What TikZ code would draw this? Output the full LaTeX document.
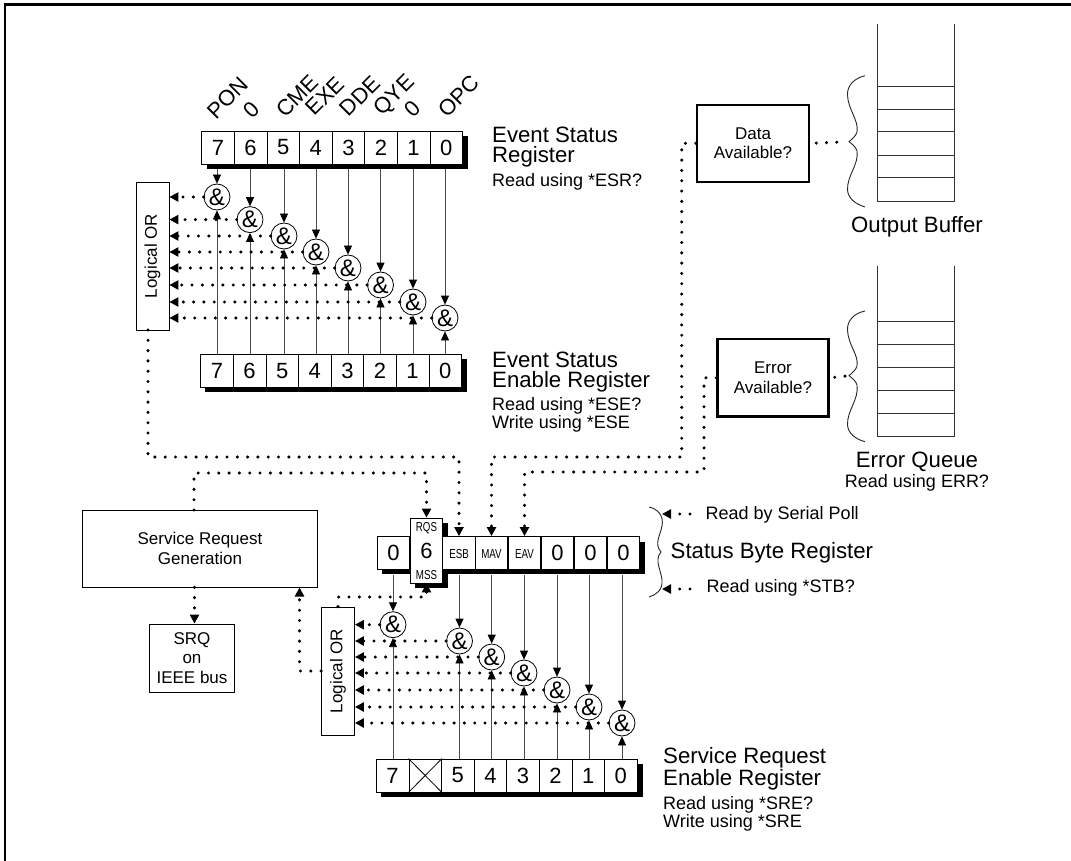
\documentclass[tikz,border=0pt]{standalone}
\usepackage{fontspec}
\usepackage{graphicx}
\setmainfont{Liberation Sans}
\usetikzlibrary{arrows.meta}
\newcommand{\squeezed}[1]{\scalebox{.75}[1]{#1}}
\tikzset{
	cell/.style={draw,fill=white,line width=.8pt,inner sep=0pt,minimum width=32.6pt,minimum height=33pt,font=\fontsize{22}{22}\selectfont},
	flag/.style={inner sep=0pt,font=\fontsize{13}{13}\selectfont},
	andgate/.style={circle,draw,fill=white,line width=.8pt,inner sep=0pt,minimum size=26pt,font=\fontsize{24}{24}\selectfont},
	orbox/.style={draw,fill=white,line width=.8pt,inner sep=0pt,minimum width=33pt,font=\fontsize{17}{17}\selectfont},
	genbox/.style={draw,line width=.8pt,inner sep=0pt,align=center,font=\fontsize{17}{19.5}\selectfont},
	availbox/.style={draw,line width=2.5pt,inner sep=0pt,align=center,font=\fontsize{17}{19.5}\selectfont},
	wire/.style={line width=.8pt,black!70,-{Triangle[length=9pt,width=8pt,black]}},
	dots/.style={line width=3.4pt,line cap=round,dash pattern=on 0pt off 10.3pt,-{Triangle[length=9pt,width=9pt]}},
	plaindots/.style={line width=3.4pt,line cap=round,dash pattern=on 0pt off 10.3pt},
	bigtext/.style={inner sep=0pt,anchor=west,align=left,font=\fontsize{22.2}{20}\selectfont},
	readtext/.style={inner sep=0pt,anchor=west,align=left,font=\fontsize{18}{15.5}\selectfont},
	bitname/.style={inner sep=0pt,rotate=45,font=\fontsize{22}{22}\selectfont},
	stack/.style={line width=.8pt,black!80},
	curly/.style={line width=.9pt,black!85}
}
\begin{document}
\begin{tikzpicture}[x=1pt,y=-1pt]
	\fill[white] (0,0) rectangle (1071,861);
	\useasboundingbox (0,0) rectangle (1071,861);
	\draw[line width=2.5pt] (5,861) -- (5,4.5) -- (1071,4.5);

	\fill (207,136) rectangle (468,168.7);
	\fill (205,359) rectangle (467,391.7);
	\fill (382,542) rectangle (645,573.5);
	\fill (415,523) rectangle (448,587.7);
	\fill (381,764) rectangle (642.5,797);

	\foreach \i/\t in {0/7,1/6,2/5,3/4,4/3,5/2,6/1,7/0}{
		\node[cell] (esr\t) at ({218+32.6*\i},147.5) {\t};
		\node[cell] (ese\t) at ({217+32.6*\i},371) {\t};
	}
	\foreach \l/\n/\x/\y in {PON/a/228/98,0/b/251/110,CME/c/297/96,EXE/d/325/96,DDE/e/360/96,QYE/f/395/96,0/g/412/109,OPC/h/459/96}{
		\node[bitname] (name\n) at (\x,\y) {\l};
	}
	\node[orbox,minimum height=148pt] (ortop) at (152.5,256) {\rotatebox{90}{Logical OR}};
	\foreach \b/\x/\y in {7/217/197,6/250/219.6,5/284/236,4/316/252,3/348/268,2/380.5/285,1/413/302,0/445/318}{
		\node[andgate] (esa\b) at (\x,\y) {\&};
		\draw[wire,shorten <=5pt] (esa\b.north |- esr\b.south) -- (esa\b.north);
		\draw[wire] (esa\b.south |- ese\b.north) -- (esa\b.south);
		\draw[dots] (esa\b.west) -- (esa\b.west -| ortop.east);
	}
	\node[bigtext] (esrtitle) at (492,147.5) {Event Status\\Register};
	\node[readtext] (esrread) at (492,182) {Read using *ESR?};
	\node[bigtext] (esetitle) at (492,372) {Event Status\\Enable Register};
	\node[readtext] (eseread) at (492,414.5) {Read using *ESE?\\Write using *ESE};

	\node[cell] (stat7) at (393.5,553) {0};
	\node[cell,minimum height=65pt] (stat6) at (426.5,550.5) {6};
	\node[flag] (rqs) at (426.5,528) {\squeezed{RQS}};
	\node[flag] (mss) at (426.5,575.5) {\squeezed{MSS}};
	\node[cell] (stat5) at (459,553) {};
	\node[flag] (esb) at (459,554.5) {\squeezed{ESB}};
	\node[cell] (stat4) at (491.5,553) {};
	\node[flag] (mav) at (491.5,554.5) {\squeezed{MAV}};
	\node[cell] (stat3) at (524.5,553) {};
	\node[flag] (eav) at (524.5,554.5) {\squeezed{EAV}};
	\node[cell] (stat2) at (557.5,553) {0};
	\node[cell] (stat1) at (590.5,553) {0};
	\node[cell] (stat0) at (623.5,553) {0};
	\node[bigtext] (stattitle) at (670.5,553) {Status Byte Register};
	\node[readtext] (statpoll) at (705.5,515) {Read by Serial Poll};
	\node[readtext] (statread) at (706.5,587.5) {Read using *STB?};

	\foreach \i/\t in {0/7,2/5,3/4,4/3,5/2,6/1,7/0}{
		\node[cell] (sre\t) at ({392.6+32.6*\i},775.5) {\t};
	}
	\node[cell] (sre6) at (425.2,775.5) {};
	\draw[line width=.8pt] (sre6.north west) -- (sre6.south east);
	\draw[line width=.8pt] (sre6.north east) -- (sre6.south west);
	\node[orbox,minimum height=128pt] (orlow) at (338,671) {\rotatebox{90}{Logical OR}};
	\foreach \b/\x/\y in {7/393/624.7,5/459.5/641,4/491.7/657,3/524/673,2/557/690,1/589/707,0/622/723}{
		\node[andgate] (sra\b) at (\x,\y) {\&};
		\draw[wire,shorten <=5pt] (sra\b.north |- stat\b.south) -- (sra\b.north);
		\draw[wire] (sra\b.south |- sre\b.north) -- (sra\b.south);
		\draw[dots] (sra\b.west) -- (sra\b.west -| orlow.east);
	}
	\node[bigtext] (sretitle) at (663,769) {Service Request\\Enable Register};
	\node[readtext] (sreread) at (663,813.5) {Read using *SRE?\\Write using *SRE};

	\node[genbox,minimum width=235.4pt,minimum height=77.3pt] (srgen) at (200,548.6) {Service Request\\Generation};
	\node[genbox,minimum width=85pt,minimum height=68pt] (srq) at (192,658) {SRQ\\on\\IEEE bus};
	\node[availbox,minimum width=112pt,minimum height=77pt] (databox) at (753,143.3) {Data\\Available?};
	\node[availbox,minimum width=111pt,minimum height=77.5pt] (errbox) at (773,377.8) {Error\\Available?};

	\coordinate (orbot) at (148,330);
	\coordinate (esbbus) at (459,457);
	\coordinate (rqsout) at (194,510);
	\coordinate (rqsbus) at (426.5,473);
	\coordinate (mavbus) at (681.7,457);
	\coordinate (mavtop) at (491.5,457);
	\coordinate (eavbus) at (704,472);
	\coordinate (eavtop) at (524.5,472);
	\coordinate (srqout) at (194.5,587.3);
	\coordinate (srin) at (299.5,587.5);
	\coordinate (mssbus) at (426.5,597);
	\coordinate (outtip) at (849,141.7);
	\coordinate (errtip) at (849,375.7);
	\coordinate (polltip) at (662,514);
	\coordinate (stbtip) at (662,589);
	\coordinate (pollend) at (690,514);
	\coordinate (stbend) at (690,589);

	\draw[dots] (orbot) |- (esbbus) -- (stat5.north);
	\draw[dots] (rqsout) |- (rqsbus) -- (stat6.north);
	\draw[dots] (databox.west) -| (mavbus) -- (mavtop) -- (stat4.north);
	\draw[dots] (errbox.west) -| (eavbus) -- (eavtop) -- (stat3.north);
	\draw[dots] (orlow.north) |- (mssbus) -- (stat6.south);
	\draw[dots] (orlow.west) -| (srin);
	\draw[dots] (srqout) -- (srqout |- srq.north);
	\draw[plaindots,shorten <=6pt,shorten >=10pt] (databox.east) -- (outtip);
	\draw[plaindots,shorten <=5pt,shorten >=1pt] (errbox.east) -- (errtip);
	\draw[dots] (pollend) -- (polltip);
	\draw[dots] (stbend) -- (stbtip);

	\draw[curly] (865,75.7) .. controls (855,78) and (847,85) .. (847.5,95) .. controls (848,110) and (859,120) .. (857,132) .. controls (856,136) and (852,139) .. (849,141.7) .. controls (852,144) and (856,147) .. (857,151) .. controls (859,165) and (847,175) .. (847.5,190) .. controls (848,198) and (855,204) .. (865,207);
	\draw[curly] (865,311) .. controls (855,313) and (847,320) .. (847.5,330) .. controls (848,345) and (859,355) .. (857,366) .. controls (856,370) and (852,373) .. (849,375.7) .. controls (852,378) and (856,381) .. (857,385) .. controls (859,400) and (847,410) .. (847.5,425) .. controls (848,433) and (855,439) .. (865,441.7);
	\draw[curly] (649,507) .. controls (658,509) and (664,516) .. (662,526) .. controls (660,536) and (654,544) .. (661,552) .. controls (654,560) and (661,570) .. (662,580) .. controls (663,590) and (656,595) .. (649,597);

	\draw[stack] (877,24) -- (877,201) -- (954,201) -- (954,24);
	\foreach \y in {86.7,109.7,131.7,155.7,177.7}{
		\draw[stack] (877,\y) -- (954,\y);
	}
	\draw[stack] (877,266) -- (877,436) -- (954,436) -- (954,266);
	\foreach \y in {321,344,367,390,413}{
		\draw[stack] (877,\y) -- (954,\y);
	}
	\node[bigtext,anchor=center] (buftitle) at (917,226.7) {Output Buffer};
	\node[bigtext,anchor=center] (errtitle) at (917,462) {Error Queue};
	\node[readtext,anchor=center] (errread) at (917,482.7) {Read using ERR?};
\end{tikzpicture}
\end{document}
